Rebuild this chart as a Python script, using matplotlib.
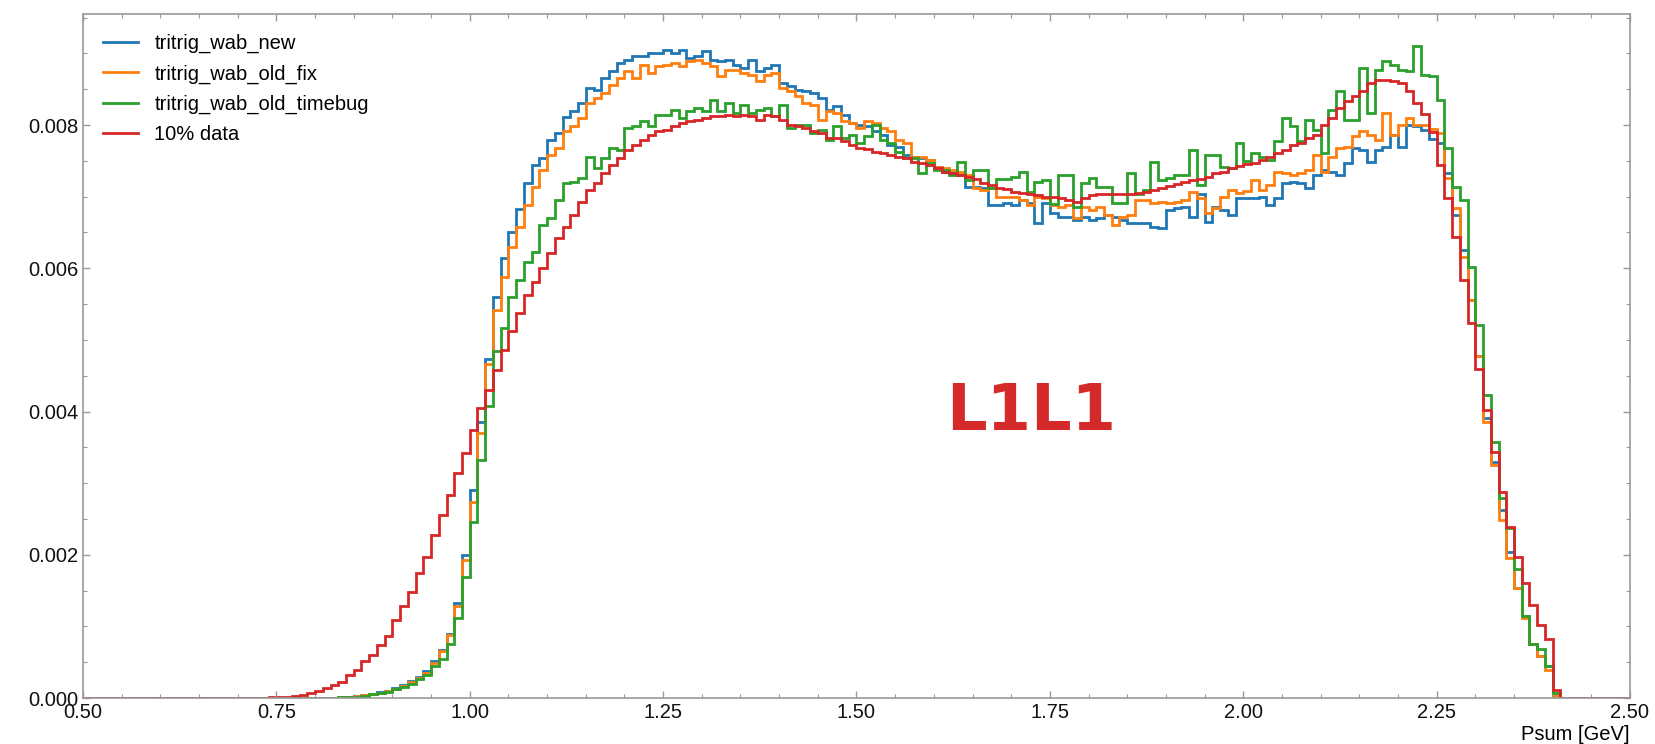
import numpy as np
import matplotlib
matplotlib.use("Agg")
import matplotlib.pyplot as plt
from matplotlib.lines import Line2D
from matplotlib.ticker import MultipleLocator

# Psum histograms, bin width 0.01 GeV, values below are for 0.70 .. 2.40 (units of 1e-3)
x_first = 0.70
red = [  # 10% data
    0.002, 0.003, 0.004, 0.006, 0.008, 0.012, 0.018, 0.028, 0.042, 0.065,
    0.098, 0.135, 0.18, 0.23, 0.32, 0.39, 0.51, 0.60, 0.74, 0.86,
    1.09, 1.28, 1.48, 1.74, 1.97, 2.28, 2.56, 2.84, 3.14, 3.42,
    3.74, 4.05, 4.30, 4.58, 4.86, 5.12, 5.37, 5.63, 5.81, 6.00,
    6.21, 6.42, 6.58, 6.75, 6.93, 7.09, 7.19, 7.33, 7.44, 7.54,
    7.65, 7.72, 7.79, 7.86, 7.91, 7.93, 7.98, 8.03, 8.05, 8.07,
    8.10, 8.12, 8.13, 8.14, 8.12, 8.14, 8.12, 8.07, 8.14, 8.12,
    8.07, 8.00, 7.98, 7.96, 7.91, 7.89, 7.82, 7.82, 7.77, 7.72,
    7.68, 7.66, 7.63, 7.61, 7.58, 7.56, 7.54, 7.49, 7.47, 7.44,
    7.40, 7.35, 7.33, 7.30, 7.28, 7.24, 7.19, 7.16, 7.12, 7.10,
    7.07, 7.05, 7.03, 7.02, 7.00, 7.00, 6.98, 6.96, 6.93, 6.98,
    7.02, 7.03, 7.03, 7.03, 7.04, 7.04, 7.05, 7.07, 7.09, 7.12,
    7.15, 7.18, 7.20, 7.23, 7.25, 7.28, 7.33, 7.35, 7.40, 7.43,
    7.45, 7.47, 7.51, 7.56, 7.61, 7.65, 7.72, 7.75, 7.82, 7.86,
    8.00, 8.10, 8.24, 8.33, 8.40, 8.47, 8.59, 8.63, 8.63, 8.61,
    8.59, 8.47, 8.31, 8.15, 7.90, 7.44, 6.98, 6.44, 5.84, 5.23,
    4.60, 4.02, 3.44, 2.88, 2.39, 1.97, 1.60, 1.30, 1.02, 0.83, 0.11,
]
blue = [  # tritrig_wab_new
    0, 0, 0, 0, 0, 0, 0, 0, 0.001, 0.002,
    0.003, 0.004, 0.005, 0.01, 0.02, 0.03, 0.04, 0.06, 0.08, 0.10,
    0.14, 0.18, 0.24, 0.30, 0.37, 0.51, 0.67, 0.90, 1.32, 2.00,
    2.90, 3.86, 4.74, 5.60, 6.14, 6.50, 6.83, 7.19, 7.44, 7.54,
    7.79, 7.89, 8.11, 8.19, 8.31, 8.52, 8.49, 8.65, 8.75, 8.86,
    8.91, 8.96, 8.97, 9.00, 9.00, 9.05, 9.00, 9.05, 8.93, 8.96,
    9.03, 8.91, 8.89, 8.91, 8.84, 8.79, 8.91, 8.75, 8.79, 8.84,
    8.58, 8.54, 8.49, 8.47, 8.45, 8.38, 8.21, 8.26, 8.14, 8.03,
    8.00, 7.98, 7.91, 7.86, 7.72, 7.70, 7.58, 7.56, 7.54, 7.51,
    7.42, 7.35, 7.33, 7.30, 7.14, 7.14, 7.12, 6.89, 6.89, 6.91,
    6.89, 6.96, 6.91, 6.63, 6.91, 6.77, 6.72, 6.72, 6.68, 6.72,
    6.68, 6.70, 6.75, 6.72, 6.68, 6.63, 6.63, 6.63, 6.58, 6.56,
    6.82, 6.84, 6.86, 6.72, 7.03, 6.65, 6.86, 6.82, 6.75, 6.98,
    6.98, 6.98, 7.00, 6.89, 6.98, 7.19, 7.21, 7.19, 7.12, 7.30,
    7.37, 7.35, 7.30, 7.47, 7.68, 7.65, 7.49, 7.65, 7.70, 7.86,
    7.70, 8.00, 7.98, 7.93, 7.80, 7.75, 7.33, 6.75, 6.26, 5.56,
    4.77, 3.91, 3.30, 2.63, 2.04, 1.53, 1.14, 0.76, 0.58, 0.44, 0.03,
]
orange = [  # tritrig_wab_old_fix
    0, 0, 0, 0, 0, 0, 0, 0, 0.001, 0.002,
    0.003, 0.004, 0.005, 0.01, 0.015, 0.025, 0.04, 0.05, 0.07, 0.10,
    0.13, 0.17, 0.22, 0.28, 0.35, 0.49, 0.65, 0.88, 1.28, 1.93,
    2.74, 3.70, 4.67, 5.42, 5.88, 6.30, 6.58, 6.88, 7.14, 7.37,
    7.58, 7.68, 7.91, 7.99, 8.10, 8.31, 8.38, 8.45, 8.56, 8.65,
    8.75, 8.65, 8.84, 8.72, 8.82, 8.84, 8.86, 8.82, 8.89, 8.91,
    8.86, 8.82, 8.68, 8.77, 8.77, 8.72, 8.70, 8.61, 8.70, 8.72,
    8.51, 8.47, 8.40, 8.31, 8.28, 8.07, 8.19, 8.17, 8.05, 8.03,
    7.96, 8.05, 8.03, 7.96, 7.91, 7.79, 7.75, 7.56, 7.56, 7.51,
    7.42, 7.40, 7.37, 7.35, 7.30, 7.12, 7.09, 7.12, 7.00, 7.00,
    7.00, 6.96, 6.89, 7.00, 6.98, 6.89, 6.86, 6.89, 6.70, 6.86,
    6.82, 6.86, 6.75, 6.61, 6.72, 6.75, 6.96, 6.96, 6.91, 6.93,
    6.91, 6.93, 6.96, 7.07, 6.98, 6.77, 6.84, 7.00, 7.09, 7.05,
    7.08, 7.23, 7.09, 7.16, 7.35, 7.33, 7.30, 7.33, 7.37, 7.58,
    7.35, 7.56, 7.68, 7.70, 7.84, 7.91, 7.86, 7.79, 8.17, 7.86,
    8.00, 8.10, 8.00, 8.00, 7.95, 7.89, 7.26, 6.84, 6.16, 5.56,
    4.77, 3.86, 3.25, 2.49, 1.95, 1.53, 1.11, 0.76, 0.58, 0.39, 0.03,
]
green = [  # tritrig_wab_old_timebug
    0, 0, 0, 0, 0, 0, 0, 0, 0.001, 0.002,
    0.003, 0.004, 0.005, 0.01, 0.015, 0.02, 0.03, 0.05, 0.07, 0.09,
    0.12, 0.16, 0.20, 0.26, 0.32, 0.44, 0.55, 0.76, 1.11, 1.69,
    2.46, 3.32, 4.07, 4.84, 5.16, 5.60, 5.84, 6.09, 6.23, 6.61,
    6.70, 6.96, 7.19, 7.21, 7.26, 7.56, 7.40, 7.54, 7.68, 7.65,
    7.96, 7.98, 8.05, 7.98, 8.14, 8.14, 8.21, 8.10, 8.19, 8.24,
    8.19, 8.35, 8.19, 8.31, 8.17, 8.28, 8.17, 8.21, 8.24, 8.12,
    8.28, 7.96, 8.00, 8.00, 7.89, 7.93, 7.79, 7.98, 7.82, 7.86,
    7.75, 7.84, 8.00, 7.79, 7.75, 7.63, 7.54, 7.54, 7.33, 7.47,
    7.37, 7.37, 7.30, 7.49, 7.23, 7.37, 7.37, 7.12, 7.25, 7.25,
    7.28, 7.35, 7.07, 7.20, 7.23, 6.90, 7.30, 7.30, 6.86, 7.19,
    7.26, 7.14, 7.14, 6.91, 6.91, 7.33, 7.03, 7.09, 7.49, 7.23,
    7.26, 7.30, 7.30, 7.65, 7.16, 7.58, 7.58, 7.42, 7.40, 7.75,
    7.50, 7.61, 7.56, 7.51, 7.77, 8.10, 7.98, 7.77, 8.07, 7.93,
    7.61, 8.21, 8.47, 8.07, 8.07, 8.79, 8.17, 8.77, 8.89, 8.84,
    8.77, 8.75, 9.10, 8.70, 8.68, 8.35, 7.68, 7.14, 6.96, 6.02,
    5.21, 4.23, 3.58, 2.79, 2.37, 1.80, 1.14, 0.76, 0.69, 0.44, 0.07,
]

labels = ["tritrig_wab_new", "tritrig_wab_old_fix", "tritrig_wab_old_timebug", "10% data"]
colors = ["#1f77b4", "#ff7f0e", "#2ca02c", "#d62728"]

edges = np.round(np.arange(201) * 0.01 + 0.5, 2)
i0 = int(round((x_first - 0.5) / 0.01))


def full(vals):
    h = np.zeros(200)
    h[i0:i0 + len(vals)] = np.array(vals) * 1e-3
    return h


plt.rcParams["font.family"] = ["Liberation Sans", "DejaVu Sans"]

fig = plt.figure(figsize=(16.56, 7.44), dpi=100)
ax = fig.add_axes([83 / 1656, 1 - 698 / 744, (1630 - 83) / 1656, (698 - 14) / 744])

for vals, c in zip([blue, orange, green, red], colors):
    ax.stairs(full(vals), edges, color=c, lw=2.0)

ax.set_xlim(0.5, 2.5)
ax.set_ylim(0, 0.00955)
ax.xaxis.set_major_locator(MultipleLocator(0.25))
ax.xaxis.set_minor_locator(MultipleLocator(0.05))
ax.yaxis.set_major_locator(MultipleLocator(0.002))
ax.yaxis.set_minor_locator(MultipleLocator(0.0005))
ax.xaxis.set_major_formatter(matplotlib.ticker.FormatStrFormatter("%.2f"))
ax.yaxis.set_major_formatter(matplotlib.ticker.FormatStrFormatter("%.3f"))
ax.tick_params(which="both", direction="in", top=True, right=True, color="#999999",
               labelsize=14.5, labelcolor="#111111")
ax.tick_params(which="major", length=5, width=1)
ax.tick_params(which="minor", length=3, width=0.8)
for s in ax.spines.values():
    s.set_color("#999999")
    s.set_linewidth(1.2)

ax.set_xlabel("Psum [GeV]", loc="right", fontsize=14.5, labelpad=2)

handles = [Line2D([], [], color=c, lw=2.0) for c in colors]
ax.legend(handles, labels, loc="upper left", bbox_to_anchor=(0.0, 1.0), frameon=False,
          fontsize=14.5, handlelength=1.75, handletextpad=0.8, labelspacing=0.55,
          borderaxespad=0.6)

ax.text(1.726, 0.00399, "L1L1", color="#d42a2a", fontsize=46, fontweight="bold",
        family="DejaVu Sans", ha="center", va="center")

fig.savefig("out.png", dpi=100)
